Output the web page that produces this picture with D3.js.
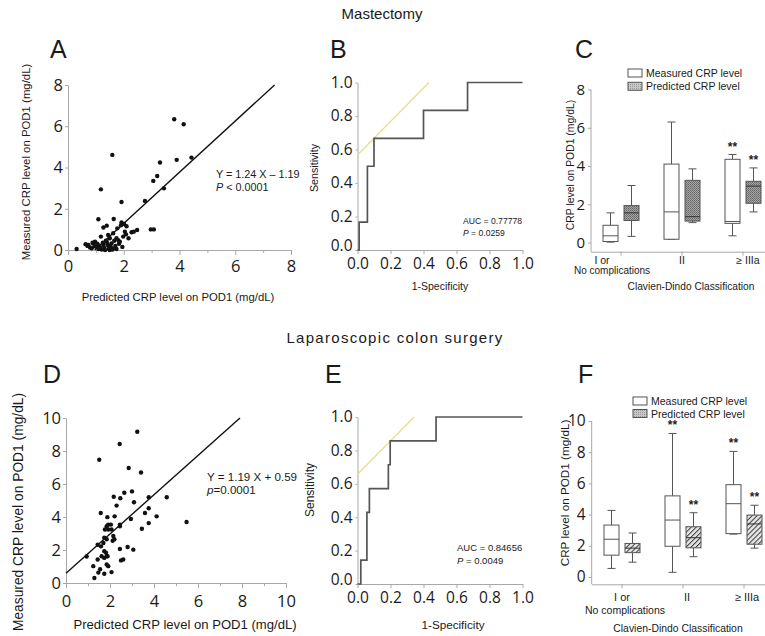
<!DOCTYPE html>
<html>
<head>
<meta charset="utf-8">
<script src="https://d3js.org/d3.v7.min.js"></script>
<style>
body{margin:0;background:#fff}
svg{display:block;font-family:"Liberation Sans",Arial,sans-serif}
</style>
</head>
<body>
<svg id="figure" width="765" height="636"></svg>
<script>
//scatter values (predicted, measured)
var mastPredicted = [0.31,0.63,0.70,0.73,0.79,0.85,0.88,0.91,0.95,0.97,1.03,1.05,1.09,1.10,1.15,1.18,1.18,1.09,1.21,1.25,1.27,1.27,1.30,1.33,1.36,1.39,1.39,1.42,1.44,1.44,1.47,1.50,1.50,1.53,1.56,1.59,1.60,1.62,1.62,1.64,1.66,1.70,1.74,1.74,1.77,1.80,1.83,1.86,1.90,1.92,1.92,1.95,1.98,2.01,2.04,2.08,2.10,2.17,2.28,2.36,2.48,2.76,2.97,3.08,3.06,3.20,3.30,3.44,3.81,3.90,4.15,4.43]
var mastMeasured = [0.05,0.28,0.20,0.24,0.12,0.08,0.35,0.32,0.18,0.40,0.16,0.30,0.05,0.22,0.12,0.65,2.94,1.49,0.02,0.35,0.24,1.09,0.10,0.00,0.45,0.40,1.18,0.28,0.21,0.73,0.05,0.00,0.57,0.15,0.32,4.61,0.02,0.08,0.81,1.50,0.45,0.20,0.05,0.57,1.05,0.48,0.30,0.40,1.20,1.33,2.33,0.15,0.65,1.26,0.89,0.76,1.15,0.57,0.86,0.89,0.97,2.38,1.00,1.00,3.35,3.59,4.24,2.99,6.34,4.37,6.10,4.48]
var colonPredicted = [0.94,1.24,1.29,1.44,1.44,1.47,1.51,1.55,1.58,1.59,1.62,1.70,1.74,1.74,1.74,1.74,1.77,1.82,1.85,1.85,1.85,1.85,1.88,1.89,1.92,1.92,1.92,2.04,2.07,2.07,2.12,2.15,2.17,2.20,2.21,2.30,2.44,2.45,2.45,2.45,2.47,2.50,2.60,2.65,2.80,2.85,2.95,3.00,3.06,3.09,3.24,3.41,3.45,3.59,3.76,3.76,3.76,4.12,4.58,5.48]
var colonMeasured = [1.61,1.02,0.30,1.42,2.32,0.63,7.47,0.83,4.24,2.22,1.62,2.42,1.93,1.52,0.56,2.75,3.24,1.83,1.62,2.65,3.44,1.12,3.99,1.62,3.54,3.24,1.02,3.54,3.24,0.66,2.56,2.85,5.23,2.65,4.04,4.69,8.42,3.54,3.44,2.06,5.14,1.37,1.42,5.47,2.18,6.97,3.88,5.55,2.02,4.89,9.17,6.70,3.29,4.24,5.20,4.53,3.63,4.04,5.20,3.70]
//regression [slope, intercept]
var mastFit = [1.24,-1.19]
var colonFit = [1.19,0.59]

//ROC steps
var mastFpr = [0,0.01,0.01,0.06,0.06,0.1,0.1,0.4,0.4,0.667,0.667,1]
var mastTpr = [0,0,0.167,0.167,0.5,0.5,0.667,0.667,0.833,0.833,1,1]
var colonFpr = [0,0.02,0.02,0.057,0.057,0.072,0.072,0.187,0.187,0.198,0.198,0.476,0.476,1]
var colonTpr = [0,0,0.143,0.143,0.429,0.429,0.571,0.571,0.714,0.714,0.857,0.857,1,1]
//intercept of the yellow cut-off line (slope 1)
var mastCut = 0.567
var colonCut = 0.657

//box plots: [min, q1, median, q3, max] per Clavien-Dindo group
var cdGroups = ["I","II","IIIa"]
var mastBoxMeasured = [[0.02,0.05,0.35,0.9,1.55],[0.17,0.17,1.6,4.1,6.3],[0.35,1.0,1.1,4.35,4.6]]
var mastBoxPredicted = [[0.32,1.15,1.55,1.93,2.98],[1.04,1.12,1.35,3.25,3.85],[1.6,2.05,2.95,3.2,3.9]]
var colonBoxMeasured = [[0.55,1.4,2.42,3.33,4.27],[0.3,1.97,3.65,5.2,9.2],[2.75,2.78,4.7,5.92,8.05]]
var colonBoxPredicted = [[0.95,1.56,1.85,2.15,2.82],[1.3,1.87,2.52,3.22,4.12],[1.85,2.1,3.4,3.97,4.6]]
var mastSignif = [[false,false],[false,false],[true,true]]
var colonSignif = [[false,false],[true,true],[true,true]]

var svg = d3.select("#figure")

var defs = svg.append("defs")
var dots = defs.append("pattern").attr("id","dots").attr("width",2).attr("height",2)
    .attr("patternUnits","userSpaceOnUse")
dots.append("rect").attr("width",2).attr("height",2).attr("fill","#a5a5a5")
dots.append("rect").attr("width",1).attr("height",1).attr("fill","#666")
dots.append("rect").attr("x",1).attr("y",1).attr("width",1).attr("height",1).attr("fill","#777")
var hatch = defs.append("pattern").attr("id","hatch").attr("width",3.5).attr("height",3.5)
    .attr("patternUnits","userSpaceOnUse").attr("patternTransform","rotate(45)")
hatch.append("rect").attr("width",3.5).attr("height",3.5).attr("fill","#e6e6e6")
hatch.append("line").attr("x1",0).attr("y1",0).attr("x2",0).attr("y2",3.5)
    .attr("stroke","#3a3a3a").attr("stroke-width",2)
var light = defs.append("pattern").attr("id","light").attr("width",2).attr("height",2)
    .attr("patternUnits","userSpaceOnUse")
light.append("rect").attr("width",2).attr("height",2).attr("fill","#c8c8c8")
light.append("rect").attr("width",1).attr("height",1).attr("fill","#999")

var styleAxis = function(g,size)
{
    g.attr("font-family","'Open Sans',sans-serif").attr("font-size",size)
    g.select(".domain").attr("stroke","#a8a8a8")
    g.selectAll(".tick line").attr("stroke","#a8a8a8")
    g.selectAll(".tick text").attr("fill","#1a1a1a")
}

var addText = function(txt,x,y,size,anchor,rotate)
{
    var t = svg.append("text").text(txt)
        .attr("font-size",size)
        .attr("text-anchor",anchor||"start")
        .attr("fill","#1a1a1a")
    if(rotate)
    {
        t.attr("transform","translate("+x+","+y+") rotate(-90)").attr("dy","0.35em")
    }
    else
    {
        t.attr("x",x).attr("y",y)
    }
    return t
}

//scatter with regression line
var drawScatter = function(cfg)
{
    var xScale = d3.scaleLinear().domain([0,cfg.max]).range(cfg.xRange)
    var yScale = d3.scaleLinear().domain([0,cfg.max]).range(cfg.yRange)
    var major = d3.range(0,cfg.max+1,2)
    var minor = d3.range(1,cfg.max,2)

    svg.append("g").attr("transform","translate(0,"+cfg.yRange[0]+")")
       .call(d3.axisBottom(xScale).tickValues(minor).tickSize(3).tickFormat(""))
       .call(styleAxis,16)
    svg.append("g").attr("transform","translate(0,"+cfg.yRange[0]+")")
       .call(d3.axisBottom(xScale).tickValues(major).tickSize(5).tickSizeOuter(0).tickPadding(cfg.xPad))
       .call(styleAxis,16.5)
    svg.append("g").attr("transform","translate("+cfg.xRange[0]+",0)")
       .call(d3.axisLeft(yScale).tickValues(major).tickSize(3).tickSizeOuter(0).tickPadding(2))
       .call(styleAxis,16.5)

    var slope = cfg.fit[0], icpt = cfg.fit[1]
    var x0 = Math.max(0,-icpt/slope)
    var x1 = (cfg.max-icpt)/slope
    svg.append("line")
       .attr("x1",xScale(x0)).attr("y1",yScale(slope*x0+icpt))
       .attr("x2",xScale(x1)).attr("y2",yScale(slope*x1+icpt))
       .attr("stroke","#111").attr("stroke-width",1.4)

    svg.append("g").selectAll("circle")
       .data(cfg.xs)
       .enter()
       .append("circle")
       .attr("cx",function(d){return xScale(d)})
       .attr("cy",function(d,i){return yScale(cfg.ys[i])})
       .attr("r",2.2)
       .attr("fill","#111")
}

//ROC curve with cut-off line
var drawRoc = function(cfg)
{
    var xScale = d3.scaleLinear().domain([0,1]).range(cfg.xRange)
    var yScale = d3.scaleLinear().domain([0,1]).range(cfg.yRange)
    var ticks = [0,0.2,0.4,0.6,0.8,1]

    svg.append("g").attr("transform","translate(0,"+cfg.yRange[0]+")")
       .call(d3.axisBottom(xScale).tickValues(ticks).tickFormat(d3.format(".1f")).tickSize(4).tickSizeOuter(0).tickPadding(4))
       .call(styleAxis,15.5)
    var yAxis = svg.append("g").attr("transform","translate("+cfg.xRange[0]+",0)")
       .call(d3.axisLeft(yScale).tickValues(ticks).tickFormat(d3.format(".1f")).tickSize(2).tickSizeOuter(0).tickPadding(3))
       .call(styleAxis,15.5)
    //lift the lowest label clear of the x labels
    yAxis.selectAll(".tick text").filter(function(d){return d==0}).attr("dy","0.02em")

    svg.append("line")
       .attr("x1",xScale(0)).attr("y1",yScale(cfg.cut))
       .attr("x2",xScale(1-cfg.cut)).attr("y2",yScale(1))
       .attr("stroke","#e6df86").attr("stroke-width",1.2)

    var line = d3.line()
        .x(function(d){return xScale(d)})
        .y(function(d,i){return yScale(cfg.tpr[i])})
    svg.append("path")
       .datum(cfg.fpr)
       .attr("d",line)
       .attr("fill","none")
       .attr("stroke","#555")
       .attr("stroke-width",1.7)
}

//paired box plots per Clavien-Dindo group
var drawBoxes = function(cfg)
{
    var xScale = d3.scaleBand().domain(cdGroups).range(cfg.xRange)
    var yScale = d3.scaleLinear().domain([0,cfg.max]).range(cfg.yRange)
    var half = 7.5, shift = 10.5

    svg.append("g").attr("transform","translate(0,"+cfg.axisY+")")
       .call(d3.axisBottom(xScale).tickSize(4).tickSizeOuter(0).tickFormat(""))
       .call(styleAxis,13)
    var yAxis = svg.append("g").attr("transform","translate("+cfg.axisX+",0)")
       .call(d3.axisLeft(yScale).tickValues(d3.range(0,cfg.max+1,2)).tickSize(3).tickSizeOuter(0).tickPadding(3))
       .call(styleAxis,cfg.tickFont)
    yAxis.select(".domain").attr("d","M0,"+yScale(cfg.max)+"V"+cfg.axisY)

    var series = [cfg.measured,cfg.predicted]
    series.forEach(function(stats,s)
    {
        var g = svg.append("g")
        stats.forEach(function(v,i)
        {
            var cx = xScale(cdGroups[i])+xScale.bandwidth()/2+(s==0?-shift:shift)
            var col = "#555"
            g.append("line").attr("x1",cx).attr("x2",cx)
             .attr("y1",yScale(v[0])).attr("y2",yScale(v[1])).attr("stroke",col)
            g.append("line").attr("x1",cx).attr("x2",cx)
             .attr("y1",yScale(v[3])).attr("y2",yScale(v[4])).attr("stroke",col)
            g.append("line").attr("x1",cx-4).attr("x2",cx+4)
             .attr("y1",yScale(v[0])).attr("y2",yScale(v[0])).attr("stroke",col)
            g.append("line").attr("x1",cx-4).attr("x2",cx+4)
             .attr("y1",yScale(v[4])).attr("y2",yScale(v[4])).attr("stroke",col)
            g.append("rect")
             .attr("x",cx-half).attr("width",half*2)
             .attr("y",yScale(v[3])).attr("height",yScale(v[1])-yScale(v[3]))
             .attr("fill",s==0?"#fff":cfg.fill)
             .attr("stroke",col)
            g.append("line").attr("x1",cx-half).attr("x2",cx+half)
             .attr("y1",yScale(v[2])).attr("y2",yScale(v[2])).attr("stroke",s==0?col:"#333")
            if(cfg.signif[i][s])
            {
                g.append("text").text("**")
                 .attr("x",cx).attr("y",yScale(v[4])-4)
                 .attr("text-anchor","middle")
                 .attr("font-size",12).attr("font-weight","bold").attr("fill","#222")
            }
        })
    })

    //legend
    var names = ["Measured CRP level","Predicted CRP level"]
    names.forEach(function(name,i)
    {
        svg.append("rect")
           .attr("x",cfg.legend[0]).attr("y",cfg.legend[1]+i*cfg.legend[2])
           .attr("width",14).attr("height",8)
           .attr("fill",i==0?"#fff":"url(#light)").attr("stroke","#555")
        addText(name,cfg.legend[0]+18,cfg.legend[1]+8+i*cfg.legend[2],10.5)
    })
}

var initFigure = function()
{
    //titles and panel letters
    addText("Mastectomy",382,19,15,"middle")
    addText("Laparoscopic colon surgery",395,343,15,"middle").attr("letter-spacing",1.3)
    addText("A",50,58,25); addText("B",330,58,25); addText("C",575,58,25)
    addText("D",43,383,25); addText("E",325,383,25); addText("F",578,383,25)

    //A
    drawScatter({xs:mastPredicted,ys:mastMeasured,fit:mastFit,max:8,
                 xRange:[68,291],yRange:[250,85],xPad:5})
    addText("Measured CRP level on POD1 (mg/dL)",26,162,11.4,"middle",true)
    addText("Predicted CRP level on POD1 (mg/dL)",178,301,11.3,"middle")
    addText("Y = 1.24 X \u2013 1.19",216,178,10.8)
    var pA = addText("",216,190.5,10.8)
    pA.append("tspan").text("P").attr("font-style","italic")
    pA.append("tspan").text(" < 0.0001")

    //D
    drawScatter({xs:colonPredicted,ys:colonMeasured,fit:colonFit,max:10,
                 xRange:[66,286],yRange:[583,418],xPad:7})
    addText("Measured CRP level on POD1 (mg/dL)",18,512,13.8,"middle",true)
    addText("Predicted CRP level on POD1 (mg/dL)",185,629,13.1,"middle")
    addText("Y = 1.19 X + 0.59",207,481,11.6)
    var pD = addText("",207,494,11.6)
    pD.append("tspan").text("p").attr("font-style","italic")
    pD.append("tspan").text("=0.0001")

    //B
    drawRoc({fpr:mastFpr,tpr:mastTpr,cut:mastCut,xRange:[357.5,522.5],yRange:[250,82.5]})
    addText("Sensitivity",314,168,10.7,"middle",true)
    addText("1-Specificity",440,290,10.5,"middle")
    addText("AUC = 0.77778",463,224,8.6)
    var pB = addText("",463,235.5,8.6)
    pB.append("tspan").text("P").attr("font-style","italic")
    pB.append("tspan").text(" = 0.0259")

    //E
    drawRoc({fpr:colonFpr,tpr:colonTpr,cut:colonCut,xRange:[357.5,522.5],yRange:[584,417]})
    addText("Sensitivity",310,490,12,"middle",true)
    addText("1-Specificity",453,629,11.7,"middle")
    addText("AUC = 0.84656",457,550.5,9.5)
    var pE = addText("",457,564,9.5)
    pE.append("tspan").text("P").attr("font-style","italic")
    pE.append("tspan").text(" = 0.0049")

    //C
    drawBoxes({measured:mastBoxMeasured,predicted:mastBoxPredicted,signif:mastSignif,
               max:8,xRange:[590.5,773.5],yRange:[242.5,89.5],axisX:591,axisY:251.7,
               fill:"url(#dots)",tickFont:15,legend:[628,69,13.3]})
    addText("CRP level on POD1 (mg/dL)",570,165,10.4,"middle",true)
    addText("I or",602,263.5,10.5,"middle")
    addText("No complications",612,274,10,"middle")
    addText("II",682,263.5,10.5,"middle")
    addText("\u2265 IIIa",748,263.5,10.5,"middle")
    addText("Clavien-Dindo Classification",691,290,10.2,"middle")

    //F
    drawBoxes({measured:colonBoxMeasured,predicted:colonBoxPredicted,signif:colonSignif,
               max:10,xRange:[591.5,774.5],yRange:[577,421],axisX:591.7,axisY:584.3,
               fill:"url(#hatch)",tickFont:15.5,legend:[633,397,12.5]})
    addText("CRP level on POD1 (mg/dL)",565,493,11.7,"middle",true)
    addText("I or",622,600.5,11,"middle")
    addText("No complications",625,613.5,10.5,"middle")
    addText("II",687,600.5,11,"middle")
    addText("\u2265 IIIa",747,600.5,11,"middle")
    addText("Clavien-Dindo Classification",678,632,10.4,"middle")
}

initFigure()
</script>
</body>
</html>
